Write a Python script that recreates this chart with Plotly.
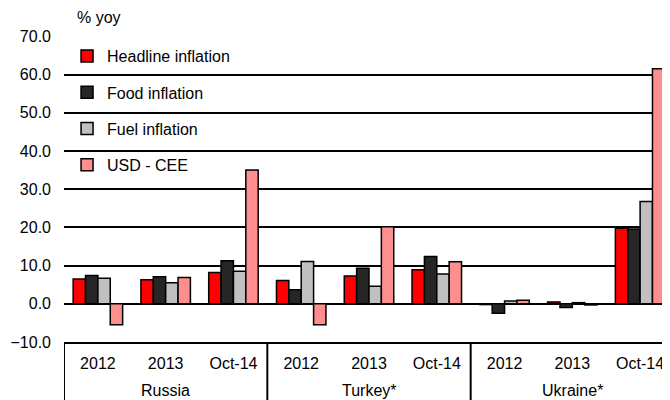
import plotly.graph_objects as go

countries = ["Russia"] * 3 + ["Turkey*"] * 3 + ["Ukraine*"] * 3
periods = ["2012", "2013", "Oct-14"] * 3
country_names = ["Russia", "Turkey*", "Ukraine*"]

series_names = ["Headline inflation", "Food inflation", "Fuel inflation", "USD - CEE"]
headline = [6.5, 6.3, 8.2, 6.1, 7.3, 8.9, -0.2, 0.5, 19.8]
food = [7.4, 7.1, 11.3, 3.7, 9.3, 12.4, -2.5, -1.0, 19.6]
fuel = [6.7, 5.5, 8.5, 11.1, 4.6, 7.8, 0.7, 0.3, 26.8]
usd_cee = [-5.5, 6.9, 35.0, -5.5, 20.2, 11.0, 0.9, -0.3, 61.5]

colors = ["#FF0000", "#262626", "#C0C0C0", "#FF8F8F"]
values = [headline, food, fuel, usd_cee]

FONT = "Liberation Sans, Arial, sans-serif"
FS = 16

cat_keys = [f"{c} {p}" for c, p in zip(countries, periods)]

fig = go.Figure()
for name, vals, col in zip(series_names, values, colors):
    fig.add_trace(go.Bar(
        x=cat_keys, y=vals, name=name,
        legendgroup=name,
        marker=dict(color=col, line=dict(color="black", width=1.5)),
    ))

# country labels (second category level) and group dividers
annotations = [dict(text="% yoy", xref="paper", yref="paper",
                    x=0.018, y=1.059, xanchor="left", yanchor="middle",
                    showarrow=False,
                    font=dict(family=FONT, size=FS, color="black"))]
shapes = []
for gi, cname in enumerate(country_names):
    idx = [i for i, c in enumerate(countries) if c == cname]
    mid = (idx[0] + idx[-1]) / 2
    annotations.append(dict(text=cname, xref="x", yref="paper",
                            x=mid, y=-0.157, xanchor="center", yanchor="middle",
                            showarrow=False,
                            font=dict(family=FONT, size=FS, color="black")))
    shapes.append(dict(type="line", xref="x", yref="paper",
                       x0=idx[0] - 0.5, x1=idx[0] - 0.5, y0=0, y1=-0.3,
                       line=dict(color="black", width=2)))

fig.update_layout(
    width=670, height=392,
    margin=dict(l=56, r=4, t=28, b=58),
    paper_bgcolor="white", plot_bgcolor="white",
    barmode="group", bargap=0.27, bargroupgap=0,
    font=dict(family=FONT, size=FS, color="black"),
    showlegend=True,
    legend=dict(x=0.005, y=0.99, xanchor="left", yanchor="top",
                bgcolor="rgba(0,0,0,0)", tracegroupgap=12.5,
                font=dict(family=FONT, size=FS, color="black")),
    xaxis=dict(type="category", range=[-0.5, 8.5],
               tickmode="array", tickvals=cat_keys, ticktext=periods,
               showline=True, linecolor="black", linewidth=2,
               ticks="", ticklabelstandoff=6,
               tickfont=dict(family=FONT, size=FS, color="black"),
               showgrid=False),
    yaxis=dict(range=[-10, 70.1], tickvals=[-10, 0, 10, 20, 30, 40, 50, 60, 70],
               tickformat=".1f",
               showgrid=True, gridcolor="black", gridwidth=2,
               zeroline=True, zerolinecolor="black", zerolinewidth=2,
               showline=False, ticks="", ticklabelstandoff=12,
               tickfont=dict(family=FONT, size=FS, color="black")),
    annotations=annotations,
    shapes=shapes,
)

fig.write_html("out.html")
